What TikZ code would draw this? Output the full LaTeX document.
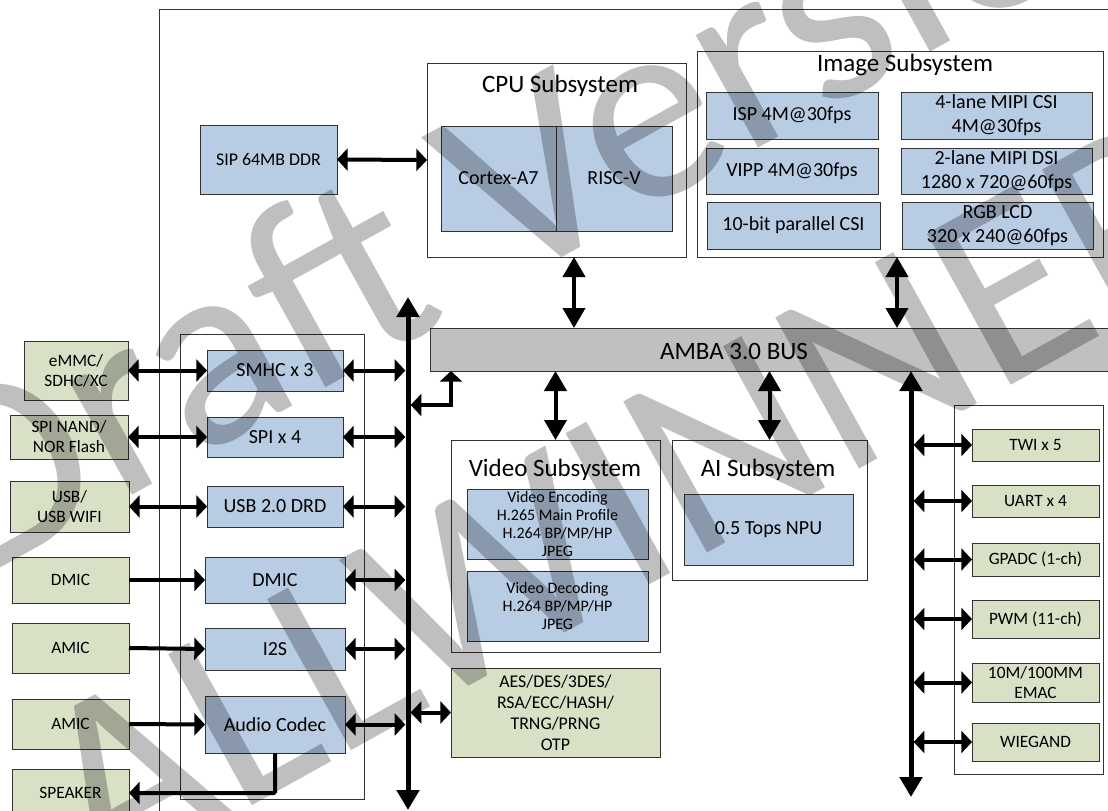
\documentclass[tikz,border=0pt]{standalone}
\usepackage{fontspec}
\setmainfont{Carlito}
\usetikzlibrary{arrows.meta}
\definecolor{blk}{HTML}{B8CCE4}
\definecolor{grn}{HTML}{D8E0C6}
\definecolor{busg}{HTML}{C0C0C0}
\definecolor{edgec}{HTML}{333333}
\tikzset{
  smalltip/.tip={Triangle[length=8pt,width=16.5pt]},
  bigtip/.tip={Triangle[length=15pt,width=16.5pt]},
  anybox/.style={draw=edgec, line width=0.75pt, inner sep=0pt, outer sep=0pt, align=center},
  bluebox/.style={anybox, fill=blk},
  greenbox/.style={anybox, fill=grn},
  contbox/.style={anybox},
  busbox/.style={anybox, fill=busg},
  fA/.style={font=\fontsize{15}{18}\selectfont},
  fB/.style={font=\fontsize{13}{15}\selectfont},
  fC/.style={font=\fontsize{12}{13.7}\selectfont},
  fD/.style={font=\fontsize{13.4}{15.8}\selectfont},
  titletext/.style={inner sep=0pt, font=\fontsize{18.75}{22}\selectfont},
  conn/.style={line width=3pt},
  busline/.style={line width=3.75pt},
  watermark/.style={inner sep=0pt, anchor=base west, rotate=29, text=black, text opacity=0.25, font=\fontsize{202}{202}\selectfont},
}
\newcommand\mkbox[7]{\node[#2, minimum width={(#5-#3)*0.75pt}, minimum height={(#6-#4)*0.75pt}] (#1) at ({(#3+#5)/2},{(#4+#6)/2}) {#7};}
\begin{document}
\begin{tikzpicture}[x=0.75pt,y=-0.75pt]
\useasboundingbox (0,0) rectangle (1108,811);
\clip (0,0) rectangle (1108,811);
% chip outline
\coordinate (chipbl) at (159,830);
\coordinate (chiptl) at (159,9);
\coordinate (chiptr) at (1120,9);
\draw[edgec, line width=0.75pt] (chipbl) -- (chiptl) -- (chiptr);

% top row
\mkbox{ddr}{bluebox,fD}{200}{125}{337}{194}{SIP 64MB DDR}
\mkbox{cpu}{contbox}{427}{63}{686}{257}{}
\node[titletext] (cputitle) at (560,86) {CPU Subsystem};
\mkbox{cortex}{bluebox,fA}{441}{126}{556}{231}{Cortex-A7}
\mkbox{riscv}{bluebox,fA}{556}{126}{672}{231}{RISC-V}

\mkbox{img}{contbox}{697}{51}{1103}{257}{}
\node[titletext] (imgtitle) at (905,65) {Image Subsystem};
\mkbox{isp}{bluebox,fA}{706}{92}{878}{139}{ISP 4M@30fps}
\mkbox{vipp}{bluebox,fA}{706}{148}{878}{194}{VIPP 4M@30fps}
\mkbox{pcsi}{bluebox,fA}{707}{202}{880}{249}{10-bit parallel CSI}
\mkbox{mcsi}{bluebox,fA}{901}{92}{1092}{139}{4-lane MIPI CSI\\4M@30fps}
\mkbox{mdsi}{bluebox,fA}{901}{148}{1092}{194}{2-lane MIPI DSI\\1280 x 720@60fps}
\mkbox{rgb}{bluebox,fA}{902}{202}{1093}{249}{RGB LCD\\320 x 240@60fps}

% bus
\mkbox{amba}{busbox}{430}{328}{1112}{371}{}
\node[titletext] (ambatext) at (734,351) {AMBA 3.0 BUS};

% middle subsystems
\mkbox{video}{contbox}{451}{440}{660}{652}{}
\node[titletext] (videotitle) at (555,470) {Video Subsystem};
\mkbox{venc}{bluebox,fC}{467}{489}{648}{559}{Video Encoding\\H.265 Main Profile\\H.264 BP/MP/HP\\JPEG}
\mkbox{vdec}{bluebox,fC}{467}{571}{648}{641}{Video Decoding\\H.264 BP/MP/HP\\JPEG}
\mkbox{ai}{contbox}{672}{440}{867}{580}{}
\node[titletext] (aititle) at (768,470) {AI Subsystem};
\mkbox{npu}{bluebox,fA}{684}{494}{853}{565}{0.5 Tops NPU}
\mkbox{crypto}{greenbox,fD}{451}{668}{660}{757}{AES/DES/3DES/\\RSA/ECC/HASH/\\TRNG/PRNG\\OTP}

% left group
\mkbox{lgrp}{contbox}{180}{334}{364}{799}{}
\mkbox{smhc}{bluebox,fA}{207}{350}{343}{391}{SMHC x 3}
\mkbox{spi}{bluebox,fA}{207}{417}{343}{457}{SPI x 4}
\mkbox{usb}{bluebox,fA}{207}{486}{343}{527}{USB 2.0 DRD}
\mkbox{dmic}{bluebox,fA}{205}{557}{345}{603}{DMIC}
\mkbox{itwos}{bluebox,fA}{205}{628}{345}{670}{I2S}
\mkbox{codec}{bluebox,fA}{205}{696}{345}{753}{Audio Codec}

\mkbox{emmc}{greenbox,fB}{24}{341}{128}{400}{eMMC/\\SDHC/XC}
\mkbox{nand}{greenbox,fB}{10}{415}{128}{459}{SPI NAND/\\NOR Flash}
\mkbox{usbx}{greenbox,fB}{10}{481}{129}{532}{USB/\\USB WIFI}
\mkbox{dmicx}{greenbox,fB}{12}{557}{129}{603}{DMIC}
\mkbox{amica}{greenbox,fB}{12}{623}{129}{673}{AMIC}
\mkbox{amicb}{greenbox,fB}{12}{699}{129}{749}{AMIC}
\mkbox{spk}{greenbox,fB}{12}{769}{129}{817}{SPEAKER}

% right group
\mkbox{rgrp}{contbox}{954}{405}{1103}{774}{}
\mkbox{twi}{greenbox,fB}{972}{429}{1099}{461}{TWI x 5}
\mkbox{uart}{greenbox,fB}{972}{485}{1099}{517}{UART x 4}
\mkbox{gpadc}{greenbox,fB}{972}{543}{1099}{576}{GPADC (1-ch)}
\mkbox{pwm}{greenbox,fB}{972}{600}{1099}{638}{PWM (11-ch)}
\mkbox{emac}{greenbox,fB}{972}{663}{1099}{702}{10M/100MM\\EMAC}
\mkbox{wieg}{greenbox,fB}{972}{723}{1099}{761}{WIEGAND}

% bus lines
\coordinate (lbtop) at (408,297);
\coordinate (lbbot) at (408,810);
\draw[busline, bigtip-bigtip] (lbtop) -- (lbbot);
\coordinate (rbbot) at (911,797);
\draw[busline, bigtip-bigtip] (amba.south -| rbbot) -- (rbbot);

% top connections
\coordinate (cpux) at (574,0);
\coordinate (imgx) at (897,0);
\draw[conn, smalltip-smalltip] (ddr.east) -- (cpu.west);
\draw[conn, bigtip-bigtip] (cpu.south -| cpux) -- (amba.north -| cpux);
\draw[conn, bigtip-bigtip] (img.south -| imgx) -- (amba.north -| imgx);
\draw[conn, bigtip-bigtip] (amba.south -| video.north) -- (video.north);
\draw[conn, bigtip-bigtip] (amba.south -| ai.north) -- (ai.north);

% elbow from left bus to AMBA
\coordinate (elb) at (451,405);
\draw[conn, smalltip-smalltip, shorten <=2pt] (elb -| lbtop) -- (elb) -- (amba.south -| elb);

% left side connections
\draw[conn, smalltip-smalltip] (emmc.east) -- (smhc.west);
\draw[conn, smalltip-smalltip] (nand.east) -- (spi.west);
\draw[conn, smalltip-smalltip] (usbx.east) -- (usb.west);
\draw[conn, -smalltip] (dmicx.east) -- (dmic.west);
\draw[conn, -smalltip] (amica.east) -- (itwos.west);
\draw[conn, -smalltip] (amicb.east) -- (codec.west);
\coordinate (spkturn) at (0,793);
\draw[conn, -smalltip, rounded corners=1pt] (codec.south) -- (codec.south |- spkturn) -- (spk.east |- spkturn);

\foreach \b in {smhc,spi,usb,dmic,itwos,codec}{
  \draw[conn, smalltip-smalltip, shorten >=2pt] (\b.east) -- (\b.east -| lbtop);
}
\draw[conn, smalltip-smalltip, shorten >=2pt] (crypto.west) -- (crypto.west -| lbtop);

% right side connections
\foreach \b in {twi,uart,gpadc,pwm,emac,wieg}{
  \draw[conn, smalltip-smalltip, shorten >=2pt] (\b.west) -- (\b.west -| rbbot);
}

% watermark
\node[watermark] (wmdraft) at (-28,584) {Draft Version};
\node[watermark] (wmvendor) at (100,890) {ALLWINNER};
\end{tikzpicture}
\end{document}
